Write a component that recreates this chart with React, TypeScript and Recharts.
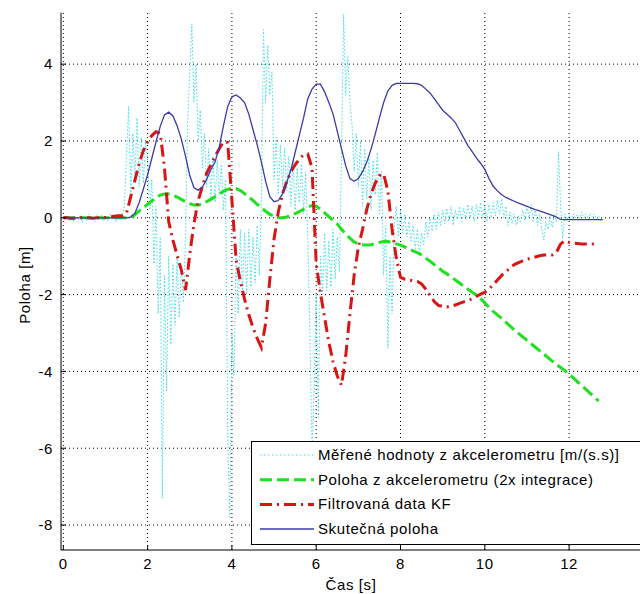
import React from "react";
import { LineChart, Line, XAxis, YAxis, ReferenceLine } from "recharts";

// time base for the position series [s]
const POS_TIME = [
  0, 0.1, 0.2, 0.3, 0.4, 0.5, 0.6, 0.7, 0.8, 0.9,
  1, 1.1, 1.2, 1.3, 1.4, 1.5, 1.6, 1.7, 1.8, 1.9,
  2, 2.1, 2.2, 2.3, 2.4, 2.5, 2.6, 2.7, 2.8, 2.9,
  3, 3.1, 3.2, 3.3, 3.4, 3.5, 3.6, 3.7, 3.8, 3.9,
  4, 4.1, 4.2, 4.3, 4.4, 4.5, 4.6, 4.7, 4.8, 4.9,
  5, 5.1, 5.2, 5.3, 5.4, 5.5, 5.6, 5.7, 5.8, 5.9,
  6, 6.1, 6.2, 6.3, 6.4, 6.5, 6.6, 6.7, 6.8, 6.9,
  7, 7.1, 7.2, 7.3, 7.4, 7.5, 7.6, 7.7, 7.8, 7.9,
  8, 8.1, 8.2, 8.3, 8.4, 8.5, 8.6, 8.7, 8.8, 8.9,
  9, 9.1, 9.2, 9.3, 9.4, 9.5, 9.6, 9.7, 9.8, 9.9,
  10, 10.1, 10.2, 10.3, 10.4, 10.5, 10.6, 10.7, 10.8, 10.9,
  11, 11.1, 11.2, 11.3, 11.4, 11.5, 11.6, 11.7, 11.8, 11.9,
  12, 12.1, 12.2, 12.3, 12.4, 12.5, 12.6, 12.7, 12.8,
];

// Skutečná poloha
const TRUE_POS = [
  0, 0, 0, 0, 0, 0, 0, 0, 0, 0,
  0, 0, 0, 0, 0, 0, 0.02, 0.12, 0.4, 0.75,
  1.12, 1.55, 1.98, 2.38, 2.68, 2.75, 2.65, 2.4, 2.05, 1.6,
  1.1, 0.78, 0.72, 0.8, 1.0, 1.25, 1.45, 1.85, 2.4, 2.9,
  3.15, 3.2, 3.12, 3.0, 2.7, 2.3, 1.9, 1.45, 0.95, 0.55,
  0.42, 0.45, 0.62, 0.92, 1.25, 1.7, 2.15, 2.6, 3.1, 3.35,
  3.48, 3.48, 3.28, 3.0, 2.7, 2.25, 1.8, 1.35, 1.02, 0.95,
  1.02, 1.2, 1.45, 1.78, 2.18, 2.6, 3.0, 3.3, 3.45, 3.5,
  3.5, 3.5, 3.5, 3.5, 3.49, 3.45, 3.35, 3.25, 3.1, 2.95,
  2.8, 2.7, 2.6, 2.48, 2.28, 2.08, 1.88, 1.72, 1.56, 1.42,
  1.26, 1.02, 0.82, 0.7, 0.6, 0.53, 0.48, 0.43, 0.38, 0.34,
  0.3, 0.25, 0.21, 0.18, 0.14, 0.1, 0.06, 0.02, -0.04, -0.05,
  -0.05, -0.05, -0.05, -0.05, -0.05, -0.05, -0.05, -0.05, -0.05,
];

// Poloha z akcelerometru (2x integrace)
const INTEG_POS = [
  0, 0, 0, 0, 0, 0, 0, 0, 0, 0,
  0, 0, 0, 0, 0, 0, 0.01, 0.08, 0.18, 0.26,
  0.35, 0.44, 0.52, 0.59, 0.62, 0.62, 0.59, 0.54, 0.48, 0.42,
  0.37, 0.33, 0.33, 0.36, 0.42, 0.48, 0.55, 0.62, 0.69, 0.74,
  0.77, 0.76, 0.71, 0.63, 0.54, 0.45, 0.35, 0.26, 0.17, 0.09,
  0.04, 0.01, 0.0, 0.02, 0.06, 0.11, 0.16, 0.22, 0.28, 0.32,
  0.3, 0.23, 0.13, 0.03, -0.07, -0.16, -0.3, -0.42, -0.53, -0.63,
  -0.68, -0.7, -0.71, -0.7, -0.67, -0.64, -0.62, -0.62, -0.65, -0.68,
  -0.71, -0.76, -0.81, -0.86, -0.91, -0.97, -1.05, -1.13, -1.22, -1.3,
  -1.39, -1.46, -1.54, -1.62, -1.7, -1.78, -1.86, -1.94, -2.01, -2.1,
  -2.22, -2.33, -2.44, -2.53, -2.62, -2.72, -2.82, -2.92, -3.01, -3.1,
  -3.19, -3.28, -3.37, -3.46, -3.55, -3.64, -3.73, -3.82, -3.9, -3.98,
  -4.07, -4.17, -4.27, -4.37, -4.47, -4.57, -4.67, -4.77, null,
];

// Filtrovaná data KF
const KF_POS = [
  0, 0, -0.02, 0, 0, 0.01, 0, -0.01, 0, 0,
  0.01, 0.02, 0.04, 0.05, 0.06, 0.12, 0.55, 0.98, 1.42, 1.75,
  1.98, 2.14, 2.24, 2.2, 1.3, -0.1, -0.58, -0.97, -1.36, -1.88,
  -0.95, -0.15, 0.45, 0.82, 1.16, 1.38, 1.6, 1.8, 1.98, 1.96,
  0.46, -1.1, -1.65, -2.12, -2.52, -2.86, -3.14, -3.38, -2.75, -1.6,
  -0.55, 0.15, 0.62, 0.95, 1.2, 1.38, 1.53, 1.64, 1.66, 1.3,
  -1.2, -1.95, -2.6, -3.24, -3.75, -4.12, -4.36, -3.6, -2.5, -1.5,
  -0.76, -0.3, 0.22, 0.62, 0.9, 1.1, 1.14, 0.7, -0.3, -1.05,
  -1.55, -1.6, -1.62, -1.64, -1.66, -1.72, -1.86, -2.02, -2.18, -2.28,
  -2.31, -2.32, -2.3, -2.27, -2.23, -2.19, -2.15, -2.11, -2.05, -1.99,
  -1.94, -1.85, -1.75, -1.62, -1.5, -1.4, -1.31, -1.22, -1.17, -1.12,
  -1.08, -1.05, -1.02, -0.99, -0.97, -0.97, -0.97, -0.9, -0.68, -0.6,
  -0.64, -0.66, -0.67, -0.68, -0.68, -0.68, -0.68, -0.68, null,
];

// time base of the accelerometer samples [s]
const ACC_TIME = [
  0, 0.05, 0.1, 0.15, 0.2, 0.25, 0.3, 0.35, 0.4, 0.45, 0.5, 0.55, 0.6, 0.65, 0.7, 0.75, 0.8, 0.85, 0.9, 0.95,
  1, 1.05, 1.1, 1.15, 1.2, 1.25, 1.3, 1.35, 1.4, 1.45, 1.5, 1.55, 1.6, 1.65, 1.7, 1.75, 1.8, 1.85, 1.9, 1.95,
  2, 2.05, 2.1, 2.15, 2.2, 2.25, 2.3, 2.35, 2.4, 2.45, 2.5, 2.55, 2.6, 2.65, 2.7, 2.75, 2.8, 2.85, 2.9, 2.95,
  3, 3.05, 3.1, 3.15, 3.2, 3.25, 3.3, 3.35, 3.4, 3.45, 3.5, 3.55, 3.6, 3.65, 3.7, 3.75, 3.8, 3.85, 3.9, 3.95,
  4, 4.05, 4.1, 4.15, 4.2, 4.25, 4.3, 4.35, 4.4, 4.45, 4.5, 4.55, 4.6, 4.65, 4.7, 4.75, 4.8, 4.85, 4.9, 4.95,
  5, 5.05, 5.1, 5.15, 5.2, 5.25, 5.3, 5.35, 5.4, 5.45, 5.5, 5.55, 5.6, 5.65, 5.7, 5.75, 5.8, 5.85, 5.9, 5.95,
  6, 6.05, 6.1, 6.15, 6.2, 6.25, 6.3, 6.35, 6.4, 6.45, 6.5, 6.55, 6.6, 6.65, 6.7, 6.75, 6.8, 6.85, 6.9, 6.95,
  7, 7.05, 7.1, 7.15, 7.2, 7.25, 7.3, 7.35, 7.4, 7.45, 7.5, 7.55, 7.6, 7.65, 7.7, 7.75, 7.8, 7.85, 7.9, 7.95,
  8, 8.05, 8.1, 8.15, 8.2, 8.25, 8.3, 8.35, 8.4, 8.45, 8.5, 8.55, 8.6, 8.65, 8.7, 8.75, 8.8, 8.85, 8.9, 8.95,
  9, 9.05, 9.1, 9.15, 9.2, 9.25, 9.3, 9.35, 9.4, 9.45, 9.5, 9.55, 9.6, 9.65, 9.7, 9.75, 9.8, 9.85, 9.9, 9.95,
  10, 10.05, 10.1, 10.15, 10.2, 10.25, 10.3, 10.35, 10.4, 10.45, 10.5, 10.55, 10.6, 10.65, 10.7, 10.75, 10.8, 10.85, 10.9, 10.95,
  11, 11.05, 11.1, 11.15, 11.2, 11.25, 11.3, 11.35, 11.4, 11.45, 11.5, 11.55, 11.6, 11.65, 11.7, 11.75, 11.8, 11.85, 11.9, 11.95,
  12, 12.05, 12.1, 12.15, 12.2, 12.25, 12.3, 12.35, 12.4, 12.45, 12.5, 12.55, 12.6, 12.65, 12.7, 12.75,
];

// Měřené hodnoty z akcelerometru [m/(s.s)]
const ACC_VALUES = [
  0, -0.05, 0.03, -0.08, 0.05, -0.1, 0.02, -0.06, 0.08, -0.12, 0.04, -0.07, 0.1, -0.05, 0.02, -0.1, 0.06, -0.04, 0.08, -0.09,
  0.05, -0.08, 0.1, -0.05, 0.06, -0.1, 0.08, -0.04, 0.1, 0.3, 1.6, 2.9, 0.6, 2.2, 1.0, 2.6, 0.8, 2.1, 0.9, 2.0,
  1.5, 0.2, 1.0, -1.2, 0.3, -2.5, -0.5, -7.3, -1.5, -4.5, -1.0, -3.3, -1.2, -2.8, -1.0, -2.6, -1.3, -2.2, -0.5, 2.5,
  3.8, 5.05, 3.0, 4.0, 2.0, 2.8, 1.3, 2.2, 0.8, 1.8, 0.5, 1.6, 0.4, 1.5, 0.6, 1.4, 0.2, 1.0, -5.7, -7.8,
  -3.0, -4.1, -0.8, -2.5, -0.3, -1.9, -0.4, -2.0, -0.3, -1.8, -0.5, -1.7, -0.2, -1.5, 0.5, 4.9, 3.0, 4.5, 3.2, 3.8,
  1.0, 2.1, 0.6, 1.9, 0.8, 1.8, 0.7, 1.6, 0.3, 1.5, 0.2, 1.3, 0.4, 1.4, 0.1, 1.2, -0.5, -3.0, -6.0, -4.5,
  -2.0, -5.2, -1.0, -2.0, -0.4, -1.9, -0.6, -1.8, -0.3, -1.6, -0.5, -1.4, 1.5, 5.3, 3.2, 4.2, 3.0, 2.4, 1.2, 2.2,
  0.8, 2.0, 0.3, 1.8, 0.5, 1.6, 0.2, 1.5, 0.6, 1.7, 0.1, 1.2, -1.5, -0.2, -3.4, -1.0, -2.5, -0.3, 0.3, -0.5,
  0.2, -0.4, 0.1, -0.5, -0.1, -0.6, -0.2, -0.8, -0.3, -0.95, -0.4, -0.7, -0.1, -0.5, 0.0, -0.35, 0.1, -0.3, 0.15, -0.2,
  0.2, -0.15, 0.25, -0.1, 0.3, -0.2, 0.2, -0.05, 0.3, -0.1, 0.25, -0.05, 0.35, 0.0, 0.3, -0.1, 0.35, 0.05, 0.4, 0.0,
  0.3, -0.1, 0.35, 0.0, 0.4, 0.05, 0.45, 0.1, 0.5, 0.0, 0.3, -0.2, 0.15, -0.15, 0.1, -0.2, 0.05, -0.1, 0.2, -0.05,
  0.3, 0.0, 0.35, -0.1, 0.2, -0.2, 0.1, -0.3, -0.58, -0.1, -0.3, 0.05, -0.25, 0.1, -0.1, 1.72, 0.3, -0.55, 0.1, -0.05,
  0.05, -0.05, 0.1, 0.0, 0.08, -0.05, 0.15, 0.0, 0.1, -0.05, 0.12, 0.02, 0.1, -0.03, 0.05, -0.08,
];

const X_TICKS = [0, 2, 4, 6, 8, 10, 12];
const Y_TICKS = [-8, -6, -4, -2, 0, 2, 4];

const SERIES_NAMES = [
  "Měřené hodnoty z akcelerometru [m/(s.s)]",
  "Poloha z akcelerometru (2x integrace)",
  "Filtrovaná data KF",
  "Skutečná poloha",
];

const CYAN = "#3fdce6";
const GREEN = "#1ee01e";
const RED = "#d81414";
const BLUE = "#3a3aaa";

const FONT = "'Liberation Sans', Arial, sans-serif";
const FONT_SIZE = 15;
const SPACING = 0.6;

const posData = POS_TIME.map((t, i) => ({
  t,
  truePos: TRUE_POS[i],
  integPos: INTEG_POS[i],
  kfPos: KF_POS[i],
}));

const accData = ACC_TIME.map((t, i) => ({ t, acc: ACC_VALUES[i] }));

const tickStyle = {
  fill: "#000",
  fontSize: FONT_SIZE,
  fontFamily: FONT,
  letterSpacing: SPACING,
};

const Legend = () => {
  const rows = [
    { color: CYAN, width: 1, dash: "1.5 2.5" },
    { color: GREEN, width: 3, dash: "12 5" },
    { color: RED, width: 3, dash: "12 5 2 5" },
    { color: BLUE, width: 1.5, dash: undefined },
  ];
  return (
    <div
      style={{
        position: "absolute",
        left: 251,
        top: 441,
        width: 420,
        height: 102,
        border: "1px solid #000",
        background: "#fff",
      }}
    >
      <svg width={420} height={102}>
        {rows.map((r, i) => {
          const y = 13 + i * 24.7;
          return (
            <g key={i}>
              <line
                x1={8}
                x2={62}
                y1={y}
                y2={y}
                stroke={r.color}
                strokeWidth={r.width}
                strokeDasharray={r.dash}
              />
              <text
                x={66}
                y={y + 5}
                fontSize={FONT_SIZE}
                fontFamily={FONT}
                letterSpacing={SPACING}
                fill="#000"
              >
                {SERIES_NAMES[i]}
              </text>
            </g>
          );
        })}
      </svg>
    </div>
  );
};

export default function App() {
  return (
    <div
      style={{
        position: "absolute",
        left: 0,
        top: 0,
        width: 640,
        height: 594,
        overflow: "hidden",
        background: "#fff",
      }}
    >
      <LineChart
        width={660}
        height={594}
        margin={{ top: 12.7, right: 6.6, left: 21, bottom: 0 }}
      >
        <XAxis
          type="number"
          dataKey="t"
          domain={[-0.055, 14]}
          ticks={X_TICKS}
          allowDataOverflow
          height={44}
          tickSize={-5}
          tickMargin={13}
          tick={tickStyle}
          stroke="#000"
        />
        <XAxis
          xAxisId="top"
          orientation="top"
          type="number"
          dataKey="t"
          domain={[-0.055, 14]}
          ticks={X_TICKS}
          allowDataOverflow
          height={0}
          tickSize={-5}
          tick={false}
          stroke="#000"
        />
        <YAxis
          type="number"
          domain={[-8.65, 5.34]}
          ticks={Y_TICKS}
          allowDataOverflow
          width={40}
          tickSize={-5}
          tickMargin={13}
          tick={tickStyle}
          stroke="#000"
        />
        {X_TICKS.map((v) => (
          <ReferenceLine
            key={`gx${v}`}
            x={v}
            stroke="#000"
            strokeDasharray="1 3"
          />
        ))}
        {Y_TICKS.map((v) => (
          <ReferenceLine
            key={`gy${v}`}
            y={v}
            stroke="#000"
            strokeDasharray="1 3"
          />
        ))}
        <Line
          data={accData}
          dataKey="acc"
          type="linear"
          stroke={CYAN}
          strokeWidth={1}
          strokeDasharray="1.5 2"
          dot={false}
          activeDot={false}
          isAnimationActive={false}
        />
        <Line
          data={posData}
          dataKey="integPos"
          type="linear"
          stroke={GREEN}
          strokeWidth={3}
          strokeDasharray="12 5"
          dot={false}
          activeDot={false}
          isAnimationActive={false}
        />
        <Line
          data={posData}
          dataKey="kfPos"
          type="linear"
          stroke={RED}
          strokeWidth={3}
          strokeDasharray="12 5 2 5"
          dot={false}
          activeDot={false}
          isAnimationActive={false}
        />
        <Line
          data={posData}
          dataKey="truePos"
          type="linear"
          stroke={BLUE}
          strokeWidth={1.3}
          dot={false}
          activeDot={false}
          isAnimationActive={false}
        />
      </LineChart>
      <Legend />
      <svg
        width={640}
        height={594}
        style={{ position: "absolute", left: 0, top: 0, pointerEvents: "none" }}
      >
        <text
          transform="translate(30, 285) rotate(-90)"
          textAnchor="middle"
          fontSize={FONT_SIZE}
          fontFamily={FONT}
          letterSpacing={SPACING}
          fill="#000"
        >
          Poloha [m]
        </text>
        <text
          x={351}
          y={590}
          textAnchor="middle"
          fontSize={FONT_SIZE}
          fontFamily={FONT}
          letterSpacing={SPACING}
          fill="#000"
        >
          Čas [s]
        </text>
      </svg>
    </div>
  );
}
